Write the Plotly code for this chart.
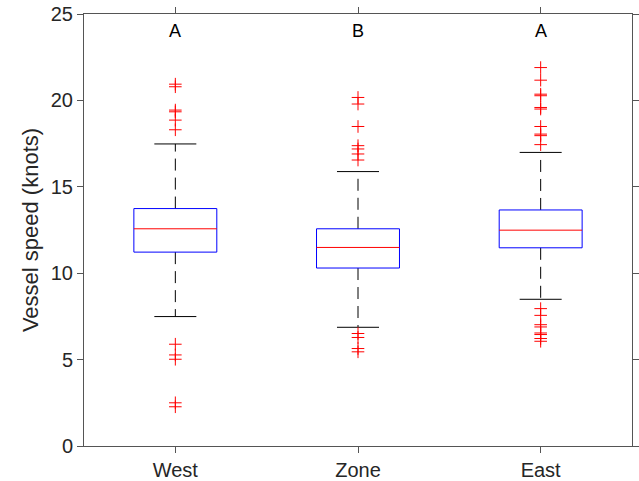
import plotly.graph_objects as go

categories = ["West", "Zone", "East"]
letters = ["A", "B", "A"]
q1 = [11.22, 10.30, 11.47]
median = [12.57, 11.49, 12.49]
q3 = [13.74, 12.57, 13.66]
lower_whisker = [7.49, 6.87, 8.49]
upper_whisker = [17.48, 15.88, 16.99]
outliers = [
    [20.94, 20.79, 19.44, 19.34, 18.86, 18.30, 5.89, 5.27, 5.02, 2.50, 2.27],
    [20.17, 19.79, 18.49, 17.38, 17.19, 16.90, 16.55, 6.51, 6.28, 5.64, 5.45],
    [21.90, 21.17, 20.36, 20.27, 19.59, 19.50, 18.49, 18.05, 17.96, 17.44,
     7.95, 7.56, 7.02, 6.89, 6.54, 6.45, 6.22, 6.06],
]

box_half = 0.227
cap_half = 0.115
font = "Liberation Sans, Arial, Helvetica, sans-serif"

fig = go.Figure()
for i, cat in enumerate(categories):
    x = i + 1
    # whiskers (dashed)
    fig.add_trace(go.Scatter(x=[x, x, None, x, x], y=[q3[i], upper_whisker[i], None, q1[i], lower_whisker[i]],
                             mode="lines", line=dict(color="black", width=1, dash="12px,7px"),
                             showlegend=False, hoverinfo="skip"))
    # caps
    fig.add_trace(go.Scatter(x=[x - cap_half, x + cap_half, None, x - cap_half, x + cap_half],
                             y=[upper_whisker[i], upper_whisker[i], None, lower_whisker[i], lower_whisker[i]],
                             mode="lines", line=dict(color="black", width=1),
                             showlegend=False, hoverinfo="skip"))
    # box
    fig.add_trace(go.Scatter(x=[x - box_half, x + box_half, x + box_half, x - box_half, x - box_half],
                             y=[q1[i], q1[i], q3[i], q3[i], q1[i]],
                             mode="lines", line=dict(color="blue", width=1),
                             showlegend=False, hoverinfo="skip"))
    # median
    fig.add_trace(go.Scatter(x=[x - box_half, x + box_half], y=[median[i], median[i]],
                             mode="lines", line=dict(color="red", width=1),
                             showlegend=False, hoverinfo="skip"))
    # outliers
    fig.add_trace(go.Scatter(x=[x] * len(outliers[i]), y=outliers[i], mode="markers",
                             marker=dict(symbol="cross-thin", size=9, line=dict(color="red", width=1)),
                             showlegend=False))
    fig.add_annotation(x=x, y=24, text=letters[i], showarrow=False,
                       font=dict(family=font, size=18, color="black"))

axis_common = dict(showline=True, linecolor="#555555", linewidth=1, mirror="ticks",
                   ticks="outside", ticklen=6, tickcolor="#555555", showgrid=False, zeroline=False,
                   automargin=False,
                   tickfont=dict(family=font, size=20, color="#262626"))
fig.update_xaxes(range=[0.5, 3.5], tickvals=[1, 2, 3], ticktext=categories, **axis_common)
fig.update_yaxes(range=[0, 25], tickvals=[0, 5, 10, 15, 20, 25],
                 title=dict(text="Vessel speed (knots)", font=dict(family=font, size=22, color="#262626"), standoff=6),
                 **axis_common)
fig.update_layout(width=639, height=481, margin=dict(l=84, r=7, t=14, b=35),
                  plot_bgcolor="white", paper_bgcolor="white")
fig.write_html("out.html", config={"displayModeBar": False},
               post_script="document.body.style.margin='0px';document.body.style.padding='0px';")
